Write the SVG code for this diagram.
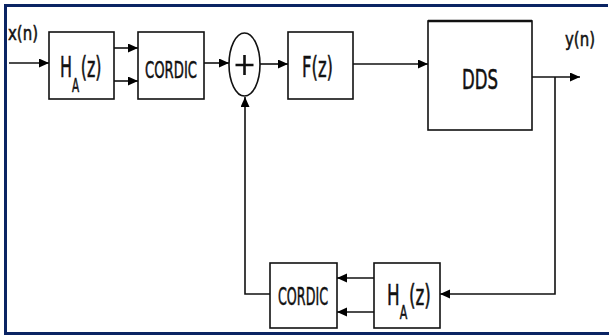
<svg xmlns="http://www.w3.org/2000/svg" width="609" height="335" viewBox="0 0 609 335">
<defs>
<marker id="ah" markerUnits="userSpaceOnUse" markerWidth="11" markerHeight="10" refX="10" refY="4.5" orient="auto">
<path d="M0,0 L10,4.5 L0,9 z" fill="#000"/>
</marker>
<style>
.box{fill:#fff;stroke:#111;stroke-width:1.6}
.plus{fill:none;stroke:#111;stroke-width:2.6}
.arr{fill:none;stroke:#111;stroke-width:1.6;marker-end:url(#ah)}
.t{font-family:"DejaVu Sans Condensed","DejaVu Sans",sans-serif;fill:#111;stroke:#111;stroke-width:0.5}
.h{font-family:"DejaVu Sans",sans-serif;fill:#111;stroke:#111;stroke-width:0.6;font-size:29px}
.frame{fill:none;stroke:#0a2463;stroke-width:3}
</style>
</defs>
<rect width="609" height="335" fill="#fff"/>
<path class="frame" d="M5.5,335 V5.5 H608"/>
<line class="frame" x1="4" y1="333.5" x2="609" y2="333.5"/>

<g id="connectors">
<path class="arr" d="M9,63 H49"/>
<path class="arr" d="M114,48 H138"/>
<path class="arr" d="M114,81 H138"/>
<path class="arr" d="M204,63 H229"/>
<path class="arr" d="M260,64 H288"/>
<path class="arr" d="M353,64 H428"/>
<path class="arr" d="M532,77 H580"/>
<path class="arr" d="M555,77 V294 H440"/>
<path class="arr" d="M374,278 H337"/>
<path class="arr" d="M374,312 H337"/>
<path class="arr" d="M270,294 H245 V97"/>
</g>

<g id="xn"><text class="t" x="8" y="40" font-size="20" textLength="30" lengthAdjust="spacingAndGlyphs">x(n)</text></g>
<g id="yn"><text class="t" x="565" y="46" font-size="20" textLength="30" lengthAdjust="spacingAndGlyphs">y(n)</text></g>

<g id="ha1">
<rect class="box" x="49" y="32" width="65" height="67"/>
<text class="h" transform="translate(60,77) scale(0.55,1)">H<tspan font-size="19" dy="15">A</tspan><tspan dy="-15" dx="3">(z)</tspan></text>
</g>

<g id="cordic1">
<rect class="box" x="138" y="32" width="66" height="67"/>
<text class="t" x="145" y="78" font-size="23" textLength="52" lengthAdjust="spacingAndGlyphs">CORDIC</text>
</g>

<g id="sum">
<ellipse class="box" cx="244.5" cy="64.5" rx="15.5" ry="31.5"/>
<path class="plus" d="M244.5,55 V75 M235.5,65 H253.5"/>
</g>

<g id="fz">
<rect class="box" x="288" y="32" width="65" height="67"/>
<text class="t" x="302" y="77" font-size="29" textLength="31" lengthAdjust="spacingAndGlyphs">F(z)</text>
</g>

<g id="dds">
<rect class="box" x="428" y="21" width="104" height="109"/>
<line x1="428" y1="21" x2="532" y2="21" stroke="#111" stroke-width="2.6"/>
<text class="t" x="462" y="89" font-size="26" textLength="36" lengthAdjust="spacingAndGlyphs">DDS</text>
</g>

<g id="cordic2">
<rect class="box" x="270" y="263" width="67" height="65"/>
<text class="t" x="278" y="305" font-size="24" textLength="50" lengthAdjust="spacingAndGlyphs">CORDIC</text>
</g>

<g id="ha2">
<rect class="box" x="374" y="263" width="66" height="65"/>
<text class="h" transform="translate(387,305) scale(0.58,1)">H<tspan font-size="19" dy="14">A</tspan><tspan dy="-14" dx="3">(z)</tspan></text>
</g>
</svg>
